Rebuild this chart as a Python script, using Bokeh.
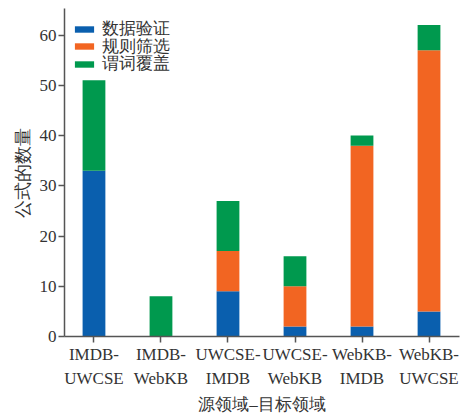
from bokeh.plotting import figure
from bokeh.models import ColumnDataSource, FixedTicker, Range1d, Legend, LegendItem
from bokeh.embed import file_html
from bokeh.resources import INLINE

categories = ["IMDB-\nUWCSE", "IMDB-\nWebKB", "UWCSE-\nIMDB", "UWCSE-\nWebKB", "WebKB-\nIMDB", "WebKB-\nUWCSE"]
series_names = ["数据验证", "规则筛选", "谓词覆盖"]
data_validation = [33, 0, 9, 2, 2, 5]
rule_filter = [0, 0, 8, 8, 36, 52]
predicate_cover = [18, 8, 10, 6, 2, 5]
y_ticks = [0, 10, 20, 30, 40, 50, 60]
colors = ["#0a5fae", "#f26522", "#00994e"]

x = list(range(len(categories)))
source = ColumnDataSource(dict(x=x, a=data_validation, b=rule_filter, c=predicate_cover))

p = figure(width=468, height=417, output_backend="svg", toolbar_location=None,
           x_range=Range1d(-0.44, 5.455), y_range=Range1d(0, 65.3),
           min_border_left=64, min_border_right=9, min_border_top=8, min_border_bottom=81)
p.outline_line_color = None
p.grid.visible = False
p.background_fill_color = "white"

renderers = p.vbar_stack(["a", "b", "c"], x="x", width=0.34, color=colors, source=source,
                         line_color=None)

legend_y = [296, 278.5, 261]
for n, r, ly in zip(series_names, renderers, legend_y):
    lg = Legend(items=[LegendItem(label=n, renderers=[r])],
                location=(8, ly), border_line_color=None, background_fill_alpha=0,
                glyph_width=24, glyph_height=8, label_standoff=6, spacing=0,
                padding=0, margin=0, label_height=16,
                label_text_font="Liberation Serif", label_text_font_size="17px",
                label_text_color="#333333")
    p.add_layout(lg)

axis_color = "#555555"
for ax in (p.xaxis[0], p.yaxis[0]):
    ax.axis_line_color = axis_color
    ax.axis_line_width = 1.5
    ax.major_tick_line_color = axis_color
    ax.major_tick_line_width = 1.5
    ax.major_tick_out = 6
    ax.major_tick_in = 0
    ax.minor_tick_line_color = None
    ax.major_label_text_font = "Liberation Serif"
    ax.major_label_text_color = "#333333"
    ax.axis_label_text_color = "#333333"
    ax.axis_label_text_font = "Liberation Serif"
    ax.axis_label_text_font_style = "normal"

p.xaxis.ticker = FixedTicker(ticks=x)
p.xaxis.major_label_overrides = {i: c for i, c in enumerate(categories)}
p.xaxis.major_label_text_font_size = "17px"
p.xaxis.major_label_text_line_height = 1.3
p.xaxis.major_label_standoff = 2
p.xaxis.axis_label = "源领域–目标领域"
p.xaxis.axis_label_text_font_size = "17px"
p.xaxis.axis_label_standoff = 4

p.yaxis.ticker = FixedTicker(ticks=y_ticks)
p.yaxis.major_label_text_font_size = "17px"
p.yaxis.major_label_standoff = 2
p.yaxis.axis_label = "公式的数量"
p.yaxis.axis_label_text_font_size = "18px"
p.yaxis.axis_label_standoff = 4

open("out.html", "w").write(file_html(p, INLINE))
